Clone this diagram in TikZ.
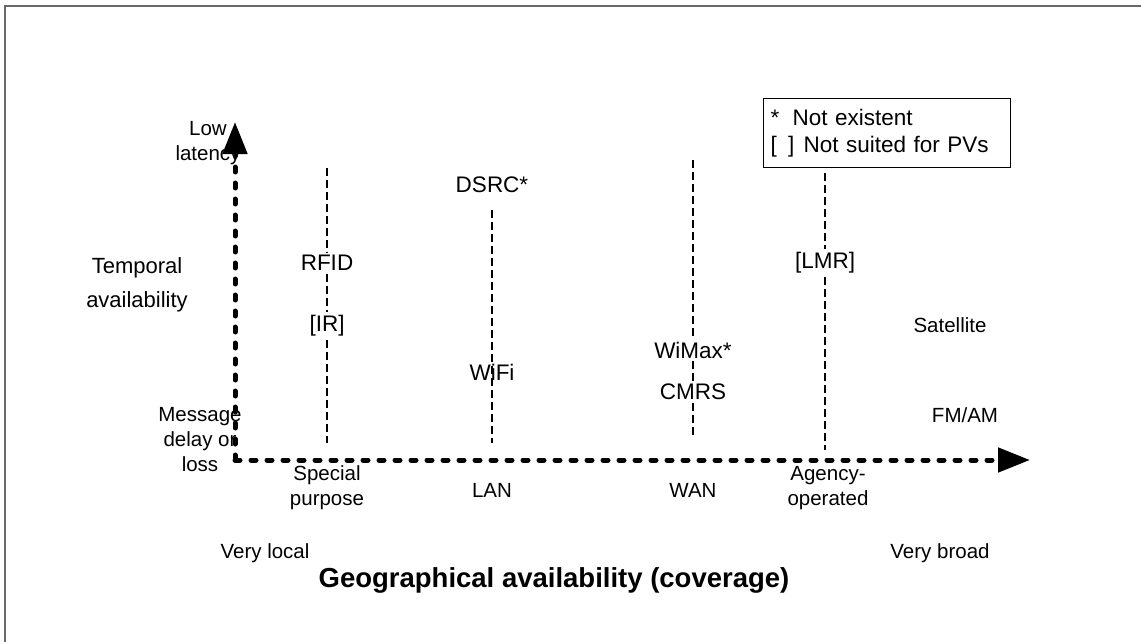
\documentclass[tikz,border=0pt]{standalone}
\usepackage{fontspec}
\setmainfont{Liberation Sans}
\usetikzlibrary{arrows.meta}
\definecolor{framegray}{RGB}{105,105,105}

\begin{document}
\begin{tikzpicture}[x=1pt, y=-1pt,
    axis/.style={line width=5pt, line cap=round, dash pattern=on 5pt off 11pt,
                 -{Triangle[length=32pt, width=24pt]}},
    guide/.style={line width=1.2pt, dash pattern=on 8pt off 4pt},
    lbl/.style={font=\fontsize{20.5}{25}\selectfont, align=center, inner sep=3pt},
    techlbl/.style={font=\fontsize{22.5}{27}\selectfont, inner sep=3pt},
    tech/.style={techlbl, fill=white},
    title/.style={font=\fontsize{22}{34}\selectfont, align=center}
]
\useasboundingbox (0,0) rectangle (1141,642);

% Frame
\draw[framegray, line width=1.5pt] (5,700) |- (1200,6);

% Axes
\coordinate (origin) at (235,460);
\coordinate (ytip) at (235,122);
\coordinate (xtip) at (1030,460);
\draw[axis] (origin) -- (ytip);
\draw[axis] (origin) -- (xtip);

% Axis labels
\node[lbl] (low) at (208,143) {Low\\latency};
\node[lbl] (delay) at (200,440) {Message\\delay or\\loss};
\node[title] (temporal) at (137,285) {Temporal\\availability};
\node[lbl] (local) at (265,553) {Very local};
\node[lbl] (broad) at (940,553) {Very broad};
\node[font=\fontsize{27.5}{30}\selectfont\bfseries] (geo) at (554,580) {Geographical availability (coverage)};

% Categories
\node[lbl] (special) at (327,488) {Special\\purpose};
\node[lbl] (lan) at (492,490) {LAN};
\node[lbl] (wan) at (693,490) {WAN};
\node[lbl] (agency) at (828,488) {Agency-\\operated};

% Legend
\node[draw, line width=1.2pt, anchor=north west, text width=233pt, minimum height=69pt,
      inner xsep=7pt, align=left, font=\fontsize{22.5}{27}\selectfont] (legend) at (763,98)
      {\makebox[22pt][l]{*}Not existent\\\makebox[33pt][l]{[\,~]}Not suited for PVs};

% Technologies
\node[tech] (rfid) at (327,263) {RFID};
\node[tech] (ir) at (327,326) {[IR]};
\node[tech] (dsrc) at (492,185) {DSRC*};
\node[techlbl] (wifi) at (492,372) {WiFi};
\node[tech] (wimax) at (693,350) {WiMax*};
\node[tech] (cmrs) at (693,392) {CMRS};
\node[tech] (lmr) at (825,263) {[LMR]};
\node[lbl] (sat) at (950,325) {Satellite};
\node[lbl] (fmam) at (965,415) {FM/AM};

% Guide lines
\coordinate (s1) at (327,168);
\coordinate (e1) at (327,443);
\coordinate (s2) at (492,210);
\coordinate (e2) at (492,443);
\coordinate (s3) at (693,160);
\coordinate (e3) at (693,437);
\coordinate (s4) at (825,173);
\coordinate (e4) at (825,450);
\draw[guide] (s1) -- (rfid.north);
\draw[guide] (rfid.south) -- (ir.north);
\draw[guide] (ir.south) -- (e1);
\draw[guide] (s2) -- (e2);
\draw[guide] (s3) -- (wimax.north);
\draw[guide] (wimax.south) -- (cmrs.north);
\draw[guide] (cmrs.south) -- (e3);
\draw[guide] (s4) -- (lmr.north);
\draw[guide] (lmr.south) -- (e4);

\end{tikzpicture}
\end{document}
